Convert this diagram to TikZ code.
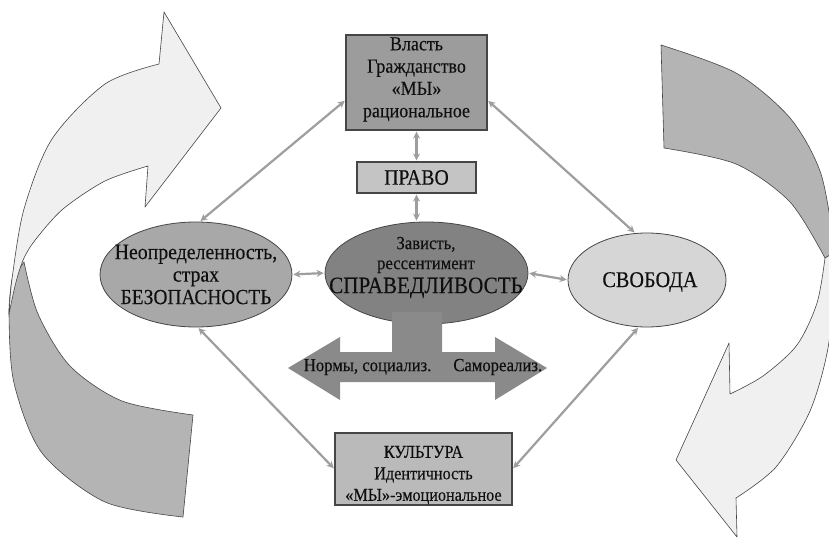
\documentclass[tikz,border=0pt]{standalone}
\usepackage{fontspec}
\setmainfont{Liberation Serif}[FakeStretch=0.9,FakeBold=0.2]
\usetikzlibrary{arrows.meta,shapes.geometric,calc}
\definecolor{topfill}{RGB}{156,156,156}
\definecolor{pravofill}{RGB}{196,196,196}
\definecolor{leftfill}{RGB}{168,168,168}
\definecolor{centerfill}{RGB}{130,130,130}
\definecolor{rightfill}{RGB}{214,214,214}
\definecolor{bottomfill}{RGB}{186,186,186}
\definecolor{tfill}{RGB}{138,138,138}
\definecolor{arrlight}{RGB}{240,240,240}
\definecolor{arrdark}{RGB}{180,180,180}
\definecolor{conncol}{RGB}{158,158,158}
\definecolor{edgecol}{RGB}{70,70,70}
\definecolor{txt}{RGB}{15,15,15}
\tikzset{
  boxnode/.style={draw=edgecol, line width=1.1pt, rectangle, inner sep=0pt, align=center, text=txt},
  ellnode/.style={draw=edgecol, line width=0.8pt, ellipse, inner sep=0pt},
  txtnode/.style={inner sep=0pt, align=center, text=txt},
  conn/.style={draw=conncol, line width=2.2pt, {Stealth[length=7pt,width=7pt]}-{Stealth[length=7pt,width=7pt]}, shorten <=1pt, shorten >=1pt},
  bigarrowlight/.style={fill=arrlight, draw=edgecol, line width=0.6pt, line join=round},
  bigarrowdark/.style={fill=arrdark, draw=edgecol, line width=0.6pt, line join=round}
}
\begin{document}
\begin{tikzpicture}[x=1pt,y=-1pt]
\useasboundingbox (0,0) rectangle (829,548);
\fill[white] (0,0) rectangle (829,548);

% big curved arrows (left)
\draw[bigarrowdark] plot[smooth] coordinates {(12,279) (9,314) (14,383) (42,453) (105,502) (183,517)}
  -- (193,415)
  -- plot[smooth] coordinates {(193,415) (122,401) (70,366) (38,314) (24,262)}
  -- cycle;
\draw[bigarrowlight] (221,108) -- (164,12) -- (159,64)
  -- plot[smooth] coordinates {(159,64) (105,84) (52,139) (24,209) (12,279) (9,314)}
  -- plot[smooth] coordinates {(9,314) (16,282) (24,258) (36,239) (63,209) (105,181) (148,166)}
  -- (145,207) -- cycle;

% big curved arrows (right)
\draw[bigarrowdark] (661,45) -- (664,148)
  -- plot[smooth] coordinates {(664,148) (736,164) (790,202) (825,258)}
  -- (835,252)
  -- plot[smooth] coordinates {(835,252) (821,174) (790,118) (736,73) (661,45)}
  -- cycle;
\draw[bigarrowlight] (825,258)
  -- plot[smooth] coordinates {(825,258) (817,303) (797,345) (763,376) (730,394)}
  -- (729,343) -- (676,460) -- (737,537) -- (736,498)
  -- plot[smooth] coordinates {(736,498) (776,467) (810,411) (828,348) (834,279) (835,252)}
  -- cycle;

% boxes
\node[boxnode, fill=topfill, minimum width=141pt, minimum height=95pt,
      font=\fontsize{20}{22.3}\selectfont] (top) at (416.5,82.5)
      {Власть\\Гражданство\\«МЫ»\\рациональное\rule[-10.5pt]{0pt}{0pt}};
\node[boxnode, fill=pravofill, minimum width=119pt, minimum height=31pt,
      font=\fontsize{22}{24}\selectfont] (pravo) at (416.5,177.5) {ПРАВО};
\node[boxnode, fill=bottomfill, minimum width=177pt, minimum height=72pt,
      font=\fontsize{18}{21.5}\selectfont] (bottom) at (423.5,469)
      {\rule{0pt}{24pt}КУЛЬТУРА\\Идентичность\\«МЫ»-эмоциональное};

% ellipses
\node[ellnode, fill=centerfill, minimum width=203pt, minimum height=102pt] (center) at (426.5,273) {};
\node[ellnode, fill=leftfill, minimum width=192pt, minimum height=105pt] (left) at (196,274.5) {};
\node[ellnode, fill=rightfill, minimum width=158pt, minimum height=94pt] (right) at (647,280) {};

% T-shaped double arrow
\fill[tfill] (392,312) -- (392,352) -- (340,352) -- (340,337) -- (288,368) -- (340,400)
  -- (340,382) -- (495,382) -- (495,400) -- (547,368) -- (495,337) -- (495,352)
  -- (442,352) -- (442,312) -- cycle;

% texts in ellipses and arrow
\node[txtnode, font=\fontsize{18.5}{20}\selectfont] (centertext) at (426,267.5)
      {Зависть,\\рессентимент\\[4pt]{\fontsize{23.5}{24}\selectfont СПРАВЕДЛИВОСТЬ}};
\node[txtnode, font=\fontsize{22}{22.5}\selectfont] (lefttext) at (196,274.5)
      {Неопределенность,\\страх\\{\fontsize{21.5}{22.5}\selectfont БЕЗОПАСНОСТЬ}};
\node[txtnode, font=\fontsize{22.5}{24}\selectfont] (righttext) at (650,282) {СВОБОДА};
\node[txtnode, font=\fontsize{18.5}{20}\selectfont] (norms) at (423,367)
      {Нормы, социализ.\hspace{22pt}Самореализ.};

% connectors
\draw[conn] (top.194) -- (left.86);
\draw[conn] (top.-14) -- (right.104);
\draw[conn] (top.south -| pravo.north) -- (pravo.north);
\draw[conn] (pravo.south) -- (pravo.south |- center.north);
\draw[conn] (left.east) -- (center.west);
\draw[conn] (center.east) -- (right.west);
\draw[conn] (left.-88) -- (bottom.west);
\draw[conn] (right.-100) -- (bottom.east);
\end{tikzpicture}
\end{document}
